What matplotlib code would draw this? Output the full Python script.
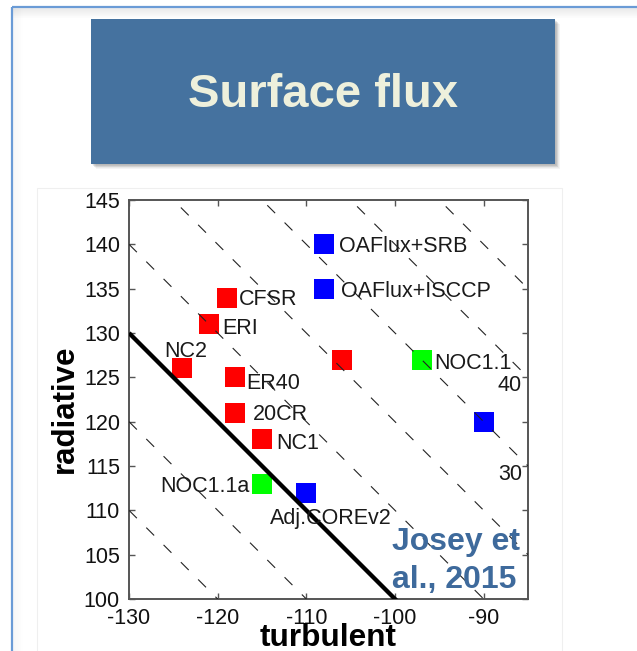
import matplotlib
matplotlib.use("Agg")
import matplotlib.pyplot as plt
from matplotlib.patches import Rectangle
import numpy as np

plt.rcParams["font.family"] = ["Liberation Sans", "DejaVu Sans"]
plt.rcParams["axes.unicode_minus"] = False

# Ocean surface heat flux products (W m-2)
names = ["OAFlux+SRB", "OAFlux+ISCCP", "CFSR", "ERI", "NC2", "ER40", "20CR",
         "NC1", "NOC1.1a", "Adj.COREv2", "", "NOC1.1", ""]
turbulent = [-108, -108, -119, -121, -124, -118, -118, -115, -115, -110, -106, -97, -90]
radiative = [140, 135, 134, 131, 126, 125, 121, 118, 113, 112, 127, 127, 120]
kind = ["sat", "sat", "rean", "rean", "rean", "rean", "rean", "rean",
        "insitu", "sat", "rean", "insitu", "sat"]

# lines of constant net flux (turbulent + radiative)
net_levels = [-20, -10, 0, 10, 20, 30, 40, 50]
labelled_levels = [40, 30]

x_ticks = [-130, -120, -110, -100, -90]
y_ticks = [100, 105, 110, 115, 120, 125, 130, 135, 140, 145]

# ---- styling / layout ----
kind_color = {"sat": "#0000ff", "rean": "#ff0000", "insitu": "#00ff00"}
label_offset = {  # pixels from marker centre; (dx, dy, ha)
    "OAFlux+SRB": (14.7, 0, "left"),
    "OAFlux+ISCCP": (17.4, -0.7, "left"),
    "CFSR": (12.6, 0.7, "left"),
    "ERI": (13.4, -1.7, "left"),
    "NC2": (-18.4, 19.7, "left"),
    "ER40": (10.7, -3.3, "left"),
    "20CR": (17.7, 0.7, "left"),
    "NC1": (14.3, -1.7, "left"),
    "NOC1.1a": (-12.3, 0, "right"),
    "Adj.COREv2": (-36, -23.3, "left"),
    "NOC1.1": (12.3, -1.0, "left"),
}

W, H = 637, 651
fig = plt.figure(figsize=(W / 100, H / 100), dpi=100)
fig.patch.set_facecolor("white")

# slide background in pixel coordinates
ov = fig.add_axes([0, 0, 1, 1], zorder=0)
ov.set_xlim(0, W)
ov.set_ylim(H, 0)
ov.axis("off")

# inner shadow along the slide frame
for i in range(10):
    a = 0.10 * (1 - i / 10)
    ov.plot([12, W], [8 + i, 8 + i], color="black", alpha=a * 0.6, lw=1,
            solid_capstyle="butt")
    ov.plot([13 + i, 13 + i], [8, H], color="black", alpha=a * 0.25, lw=1,
            solid_capstyle="butt")
ov.plot([11.5, W + 5], [6.5, 6.5], color="#6a9bd6", lw=1.6, solid_capstyle="butt")
ov.plot([11.5, 11.5], [6.5, H + 5], color="#6a9bd6", lw=1.6, solid_capstyle="butt")

# pasted figure panel
ov.add_patch(Rectangle((37, 188), 525, 470, facecolor="white",
                       edgecolor="#efefef", lw=0.8))

# title box with drop shadow
for i in range(7):
    ov.add_patch(Rectangle((91 + 1 + i * 0.6, 19 + 1 + i * 0.6), 464, 145,
                           facecolor="black", alpha=0.045, lw=0))
ov.add_patch(Rectangle((91, 19), 464, 145, facecolor="#45729f", lw=0))
ov.text(323, 107, "Surface flux", ha="center", va="baseline",
        fontsize=34, fontweight="bold", color="#eef0dc")

# scatter plot
ax = fig.add_axes([129 / W, 1 - 599 / H, 399 / W, 399 / H], zorder=1)
ax.set_xlim(-130, -85)
ax.set_ylim(100, 145)

xs = np.linspace(-130, -85, 200)
for lev in net_levels:
    if lev == 0:
        ax.plot(xs, lev - xs, color="black", lw=3.1, zorder=4,
                solid_capstyle="butt")
    else:
        ax.plot(xs, lev - xs, color="#222222", lw=0.8,
                linestyle=(0, (10, 12)), zorder=3)

for n, tx, rx, k in zip(names, turbulent, radiative, kind):
    ax.plot([tx], [rx], marker="s", linestyle="none", markersize=13.7,
            markerfacecolor=kind_color[k], markeredgewidth=0, zorder=2)
    if n:
        dx, dy, ha = label_offset[n]
        ax.annotate(n, (tx, rx), xytext=(dx, dy), textcoords="offset pixels",
                    ha=ha, va="center_baseline", fontsize=15.5, color="#1a1a1a",
                    zorder=5)

for lev in labelled_levels:
    xl = -87.05
    ax.annotate(str(lev), (xl, lev - xl), xytext=(0, -24),
                textcoords="offset pixels", ha="center", va="center_baseline",
                fontsize=15.5, color="#1a1a1a", zorder=5)

ax.set_xticks(x_ticks)
ax.set_yticks(y_ticks)
ax.tick_params(direction="in", length=4, width=1, colors="#555555",
               labelcolor="#111111", labelsize=15.5, top=True, right=True)
ax.tick_params(axis="x", pad=6.5)
ax.tick_params(axis="y", pad=6.5)
for s in ax.spines.values():
    s.set_color("#555555")
    s.set_linewidth(1.4)

ov2 = fig.add_axes([0, 0, 1, 1], zorder=2)
ov2.set_xlim(0, W)
ov2.set_ylim(H, 0)
ov2.axis("off")
ov2.patch.set_alpha(0)
ov2.text(328, 646, "turbulent", ha="center", va="baseline",
         fontsize=22.7, fontweight="bold", color="black")
ov2.text(73, 409, "radiative", ha="center", va="baseline", rotation=90,
         rotation_mode="anchor", fontsize=22.5, fontweight="bold", color="black")
ov2.text(392, 550, "Josey et", ha="left", va="baseline",
         fontsize=23, fontweight="bold", color="#3e6a9c")
ov2.text(392, 588, "al., 2015", ha="left", va="baseline",
         fontsize=23, fontweight="bold", color="#3e6a9c")

fig.savefig("out.png", dpi=100, facecolor="white")
